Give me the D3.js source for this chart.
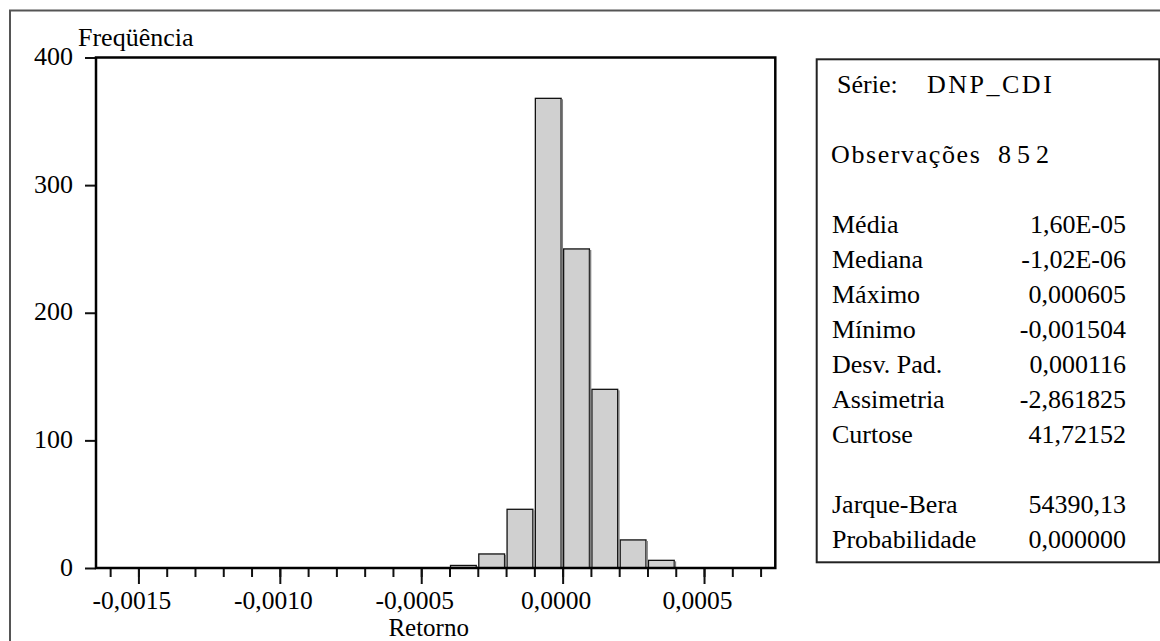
<!DOCTYPE html>
<html>
<head>
<meta charset="utf-8">
<script src="https://cdn.jsdelivr.net/npm/d3@7"></script>
<style>
  html, body { margin: 0; padding: 0; background: #fff; }
  svg { display: block; font-family: "Liberation Serif", "Times New Roman", serif; }
</style>
</head>
<body>
<div id="chart"></div>
<script>
// histogram bins (lower edge, upper edge) and frequencies
var binStarts = [-0.0004, -0.0003, -0.0002, -0.0001, 0.0000, 0.0001, 0.0002, 0.0003]
var binWidth = 0.0001
var frequencies = [2, 11, 46, 368, 250, 140, 22, 6]

var xMajorTicks = [-0.0015, -0.0010, -0.0005, 0.0000, 0.0005]
var xMinorTicks = [-16, -15, -14, -13, -12, -11, -10, -9, -8, -7, -6, -5, -4, -3, -2, -1, 0, 1, 2, 3, 4, 5, 6, 7].map(d => d / 10000)
var yTicks = [0, 100, 200, 300, 400]

var seriesName = "DNP_CDI"
var observations = "852"
var statLabels = ["Média", "Mediana", "Máximo", "Mínimo", "Desv. Pad.", "Assimetria", "Curtose", "", "Jarque-Bera", "Probabilidade"]
var statValues = ["1,60E-05", "-1,02E-06", "0,000605", "-0,001504", "0,000116", "-2,861825", "41,72152", "", "54390,13", "0,000000"]

var width = 1160, height = 641
var plot = { left: 96, top: 57.5, right: 775.3, bottom: 568 }

var svg = d3.select("#chart").append("svg")
    .attr("width", width)
    .attr("height", height)

// outer border, runs off the right and bottom edge
svg.append("rect")
    .attr("x", 10).attr("y", 10.5)
    .attr("width", width + 20).attr("height", height + 20)
    .attr("fill", "none")
    .attr("stroke", "#555")
    .attr("stroke-width", 2)

var x = d3.scaleLinear()
    .domain([-0.00165, 0.000752])
    .range([plot.left, plot.right])

var y = d3.scaleLinear()
    .domain([0, 400])
    .range([plot.bottom, plot.top])

var fmt = d => d.toFixed(4).replace(".", ",").replace(/^-0,0000$/, "0,0000")

// bars
var bars = svg.append("g").attr("class", "bars")

var barData = binStarts.map((x0, i) => ({ x0: x0, x1: x0 + binWidth, n: frequencies[i] }))

bars.selectAll("rect.bar").data(barData)
    .enter().append("rect")
    .attr("class", "bar")
    .attr("x", d => x(d.x0) + 1)
    .attr("y", d => y(d.n))
    .attr("width", d => x(d.x1) - x(d.x0) - 2.5)
    .attr("height", d => y(0) - y(d.n))
    .attr("fill", "#d0d0d0")
    .attr("stroke", "#111")
    .attr("stroke-width", 1.3)

// grey shadow on the right edge of each bar
bars.selectAll("line.shadow").data(barData)
    .enter().append("line")
    .attr("class", "shadow")
    .attr("x1", d => x(d.x1) - 0.4)
    .attr("x2", d => x(d.x1) - 0.4)
    .attr("y1", d => y(d.n) + 1)
    .attr("y2", y(0))
    .attr("stroke", "#808080")
    .attr("stroke-width", 1.6)

// x axis: minor and major ticks
var xMinor = svg.append("g")
    .attr("transform", `translate(0,${plot.bottom})`)
    .call(d3.axisBottom(x).tickValues(xMinorTicks).tickSize(9).tickFormat(""))
xMinor.select(".domain").remove()

var xMajor = svg.append("g")
    .attr("transform", `translate(0,${plot.bottom})`)
    .call(d3.axisBottom(x).tickValues(xMajorTicks).tickSize(16).tickFormat(fmt))
xMajor.select(".domain").remove()

svg.selectAll(".tick line")
    .attr("stroke", "#111")
    .attr("stroke-width", 2)

xMajor.selectAll("text")
    .attr("y", 40.5)
    .attr("dy", 0)
    .attr("x", -7)
    .attr("font-size", 25.5)
    .attr("font-family", "Liberation Serif, serif")
    .attr("fill", "#000")

// y axis
var yAxis = svg.append("g")
    .attr("transform", `translate(${plot.left},0)`)
    .call(d3.axisLeft(y).tickValues(yTicks).tickSize(11))
yAxis.select(".domain").remove()
yAxis.selectAll(".tick line").attr("stroke", "#111").attr("stroke-width", 2)
yAxis.selectAll("text")
    .attr("x", -23)
    .attr("dy", "0.27em")
    .attr("font-size", 26)
    .attr("font-family", "Liberation Serif, serif")
    .attr("fill", "#000")

// plot frame
svg.append("rect")
    .attr("x", plot.left).attr("y", plot.top)
    .attr("width", plot.right - plot.left)
    .attr("height", plot.bottom - plot.top)
    .attr("fill", "none")
    .attr("stroke", "#000")
    .attr("stroke-width", 2.5)

// axis titles
svg.append("text")
    .attr("x", 78).attr("y", 46)
    .attr("font-size", 26)
    .text("Freqüência")

svg.append("text")
    .attr("x", (plot.left + plot.right) / 2 - 7).attr("y", 636)
    .attr("text-anchor", "middle")
    .attr("font-size", 25)
    .text("Retorno")

// statistics box
var box = svg.append("g").attr("class", "stats")

box.append("rect")
    .attr("x", 816.7).attr("y", 59.3)
    .attr("width", 1159.3 - 816.7).attr("height", 562.3 - 59.3)
    .attr("fill", "#fff")
    .attr("stroke", "#222")
    .attr("stroke-width", 2)

box.append("text").attr("x", 837).attr("y", 93).attr("font-size", 26).text("Série:")
box.append("text").attr("x", 927).attr("y", 93).attr("font-size", 26)
    .attr("letter-spacing", 2.5).text(seriesName)

box.append("text").attr("x", 831).attr("y", 163).attr("font-size", 26)
    .attr("letter-spacing", 1.6).text("Observações")
box.append("text").attr("x", 998).attr("y", 163).attr("font-size", 26)
    .attr("letter-spacing", 6).text(observations)

var rowY = i => 232.5 + i * 35

box.selectAll("text.label").data(statLabels)
    .enter().append("text")
    .attr("class", "label")
    .attr("x", 832)
    .attr("y", (d, i) => rowY(i))
    .attr("font-size", 26)
    .text(d => d)

box.selectAll("text.value").data(statValues)
    .enter().append("text")
    .attr("class", "value")
    .attr("x", 1126)
    .attr("y", (d, i) => rowY(i))
    .attr("text-anchor", "end")
    .attr("font-size", 26)
    .text(d => d)
</script>
</body>
</html>
